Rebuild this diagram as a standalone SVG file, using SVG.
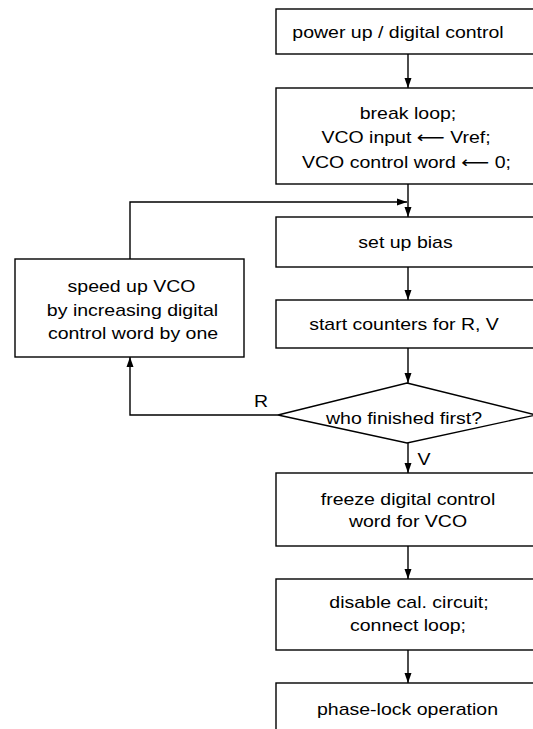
<svg xmlns="http://www.w3.org/2000/svg" width="533" height="729" viewBox="0 0 533 729">
<defs>
<style>
.box{fill:#fff;stroke:#000;stroke-width:1.4}
.ln{fill:none;stroke:#000;stroke-width:1.4}
text{font-family:"Liberation Sans",Arial,"DejaVu Sans",sans-serif;font-size:16px;fill:#000;text-anchor:middle}
</style>
<marker id="ah" markerUnits="userSpaceOnUse" markerWidth="10" markerHeight="8" refX="10" refY="4" orient="auto">
<path d="M0,0.5 L10,4 L0,7.5 z" fill="#000"/>
</marker>
</defs>
<rect width="533" height="729" fill="#fff"/>
<g id="connectors">
<line class="ln" x1="408" y1="54" x2="408" y2="88" marker-end="url(#ah)"/>
<line class="ln" x1="408" y1="184" x2="408" y2="217" marker-end="url(#ah)"/>
<polyline class="ln" points="130,259 130,202 407,202" marker-end="url(#ah)"/>
<line class="ln" x1="408" y1="267" x2="408" y2="300" marker-end="url(#ah)"/>
<line class="ln" x1="408" y1="348" x2="408" y2="383" marker-end="url(#ah)"/>
<polyline class="ln" points="278,415 130,415 130,357" marker-end="url(#ah)"/>
<line class="ln" x1="408" y1="443" x2="408" y2="473" marker-end="url(#ah)"/>
<line class="ln" x1="408" y1="546" x2="408" y2="579" marker-end="url(#ah)"/>
<line class="ln" x1="408" y1="650" x2="408" y2="683" marker-end="url(#ah)"/>
<text transform="translate(261,407) scale(1.22,1)">R</text>
<text transform="translate(424,465) scale(1.22,1)">V</text>
</g>
<g id="n1">
<rect class="box" x="276" y="9" width="264" height="45"/>
<text transform="translate(398,38) scale(1.22,1)">power up / digital control</text>
</g>
<g id="n2">
<rect class="box" x="276" y="88" width="264" height="96"/>
<text transform="translate(408,119) scale(1.22,1)">break loop;</text>
<text transform="translate(406,143) scale(1.22,1)">VCO input ⟵ Vref;</text>
<text transform="translate(406.5,167.5) scale(1.22,1)">VCO control word ⟵ 0;</text>
</g>
<g id="n3">
<rect class="box" x="276" y="217" width="264" height="50"/>
<text transform="translate(405.5,248) scale(1.22,1)">set up bias</text>
</g>
<g id="n4">
<rect class="box" x="276" y="300" width="264" height="48"/>
<text transform="translate(404,330) scale(1.22,1)">start counters for R, V</text>
</g>
<g id="n5">
<rect class="box" x="15" y="259" width="229" height="98"/>
<text transform="translate(131.5,292) scale(1.22,1)">speed up VCO</text>
<text transform="translate(132.5,315.5) scale(1.22,1)">by increasing digital</text>
<text transform="translate(133,339) scale(1.22,1)">control word by one</text>
</g>
<g id="n6">
<polygon class="box" points="407,383 536,415 407,443 278,415"/>
<text transform="translate(404,424) scale(1.22,1)">who finished first?</text>
</g>
<g id="n7">
<rect class="box" x="276" y="473" width="264" height="73"/>
<text transform="translate(408,505) scale(1.22,1)">freeze digital control</text>
<text transform="translate(408,527) scale(1.22,1)">word for VCO</text>
</g>
<g id="n8">
<rect class="box" x="276" y="579" width="264" height="71"/>
<text transform="translate(409,608) scale(1.22,1)">disable cal. circuit;</text>
<text transform="translate(408,631) scale(1.22,1)">connect loop;</text>
</g>
<g id="n9">
<rect class="box" x="276" y="683" width="264" height="60"/>
<text transform="translate(407.5,715) scale(1.22,1)">phase-lock operation</text>
</g>
</svg>
